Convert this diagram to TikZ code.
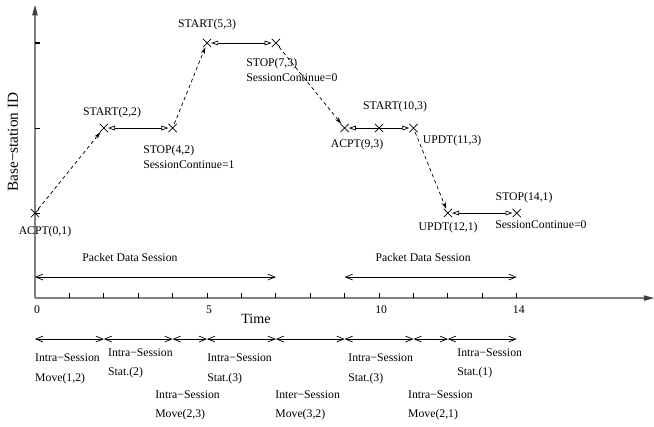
\documentclass[tikz,border=0pt]{standalone}
\usepackage{fontspec}
\setmainfont{Liberation Serif}
\usetikzlibrary{arrows.meta,positioning,shapes.misc}

\tikzset{
  axis/.style={draw=gray, line width=1.1pt, -{Triangle[length=9pt,width=4.5pt,color=black!75]}},
  tick/.style={line width=0.9pt},
  cross/.style={draw, cross out, minimum size=6.5pt, inner sep=0pt, line width=0.6pt},
  stay/.style={line width=0.6pt, {Triangle[open,length=6pt,width=4pt]}-{Triangle[open,length=6pt,width=4pt]}},
  move/.style={line width=0.6pt, dash pattern=on 3pt off 2.5pt, -{Stealth[length=6pt,width=3.5pt]}},
  span/.style={line width=0.6pt, {Straight Barb[length=6pt,width=5pt]}-{Straight Barb[length=6pt,width=5pt]}},
  lbl/.style={inner sep=0pt, font=\fontsize{10}{13}\selectfont},
  twoline/.style={lbl, align=left, anchor=north west},
  phase/.style={twoline, font=\fontsize{10}{17}\selectfont},
}

\begin{document}
\begin{tikzpicture}[x=1.032cm, y=2.55cm]
        \useasboundingbox (-1.017,-1.506) rectangle (17.99,3.506);

        % axes
        \coordinate (o) at (0,0);
        \draw[axis] (o) -- (18.0,0);
        \draw[axis] (o) -- (0,3.45);
        \foreach \t in {1,...,14}
            \draw[tick] (\t,0) -- ++(0,0.15cm);
        \foreach \s in {1,2,3}
            \draw[tick] (0,\s) -- ++(0.15cm,0);
        \node[lbl] (n0) at (0.06,-0.141) {0};
        \node[lbl] (n5) at (5.06,-0.141) {5};
        \node[lbl] (n10) at (10.06,-0.141) {10};
        \node[lbl] (n14) at (14.06,-0.141) {14};
        \node[lbl, font=\fontsize{12}{14}\selectfont] (time) at (6.42,-0.247) {Time};
        \node[lbl, font=\fontsize{13}{15}\selectfont, rotate=90] (bsid) at (-0.64,1.835) {Base−station ID};

        % handoff events
        \node[cross] (a01) at (0,1) {};
        \node[cross] (s22) at (2,2) {};
        \node[cross] (t42) at (4,2) {};
        \node[cross] (s53) at (5,3) {};
        \node[cross] (t73) at (7,3) {};
        \node[cross] (a93) at (9,2) {};
        \node[cross] (s103) at (10,2) {};
        \node[cross] (u113) at (11,2) {};
        \node[cross] (u121) at (12,1) {};
        \node[cross] (t141) at (14,1) {};

        \draw[move] (a01) -- (s22);
        \draw[stay] (s22) -- (t42);
        \draw[move] (t42) -- (s53);
        \draw[stay] (s53) -- (t73);
        \draw[move] (t73) -- (a93);
        \draw[stay] (a93) -- (u113);
        \draw[move] (u113) -- (u121);
        \draw[stay] (u121) -- (t141);

        \node[lbl] (la01) at (0.29,0.776) {ACPT(0,1)};
        \node[lbl] (ls22) at (2.238,2.176) {START(2,2)};
        \node[twoline] (lt42) at (3.14,1.8) {STOP(4,2)\\SessionContinue=1};
        \node[lbl] (ls53) at (5.0,3.212) {START(5,3)};
        \node[twoline] (lt73) at (6.134,2.824) {STOP(7,3)\\SessionContinue=0};
        \node[lbl] (la93) at (9.36,1.8) {ACPT(9,3)};
        \node[lbl] (ls103) at (10.465,2.247) {START(10,3)};
        \node[lbl] (lu113) at (12.12,1.847) {UPDT(11,3)};
        \node[lbl] (lu121) at (12.006,0.824) {UPDT(12,1)};
        \node[lbl] (lt141) at (14.215,1.176) {STOP(14,1)};
        \node[lbl, anchor=west] (lc141) at (13.37,0.859) {SessionContinue=0};

        % packet data sessions
        \coordinate (p0) at (0,0.247);
        \coordinate (p7) at (7,0.247);
        \coordinate (p9) at (9,0.247);
        \coordinate (p14) at (14,0.247);
        \draw[span] (p0) -- (p7);
        \draw[span] (p9) -- (p14);
        \node[lbl] (pds1) at (2.76,0.482) {Packet Data Session};
        \node[lbl] (pds2) at (11.28,0.482) {Packet Data Session};

        % mobility phases
        \foreach \t in {0,2,4,5,7,9,11,12,14}
            \coordinate (b\t) at (\t,-0.482);
        \foreach \a/\b in {0/2,2/4,4/5,5/7,7/9,9/11,11/12,12/14}
            \draw[span] (b\a) -- (b\b);
        \node[phase] (m12) at (0,-0.647) {Intra−Session\\Move(1,2)};
        \node[phase] (st2) at (2.12,-0.588) {Intra−Session\\Stat.(2)};
        \node[phase] (m23) at (3.49,-1.082) {Intra−Session\\Move(2,3)};
        \node[phase] (st3a) at (5.0,-0.647) {Intra−Session\\Stat.(3)};
        \node[phase] (m32) at (6.98,-1.082) {Inter−Session\\Move(3,2)};
        \node[phase] (st3b) at (9.1,-0.647) {Intra−Session\\Stat.(3)};
        \node[phase] (m21) at (10.84,-1.082) {Intra−Session\\Move(2,1)};
        \node[phase] (st1) at (12.27,-0.588) {Intra−Session\\Stat.(1)};
\end{tikzpicture}
\end{document}
